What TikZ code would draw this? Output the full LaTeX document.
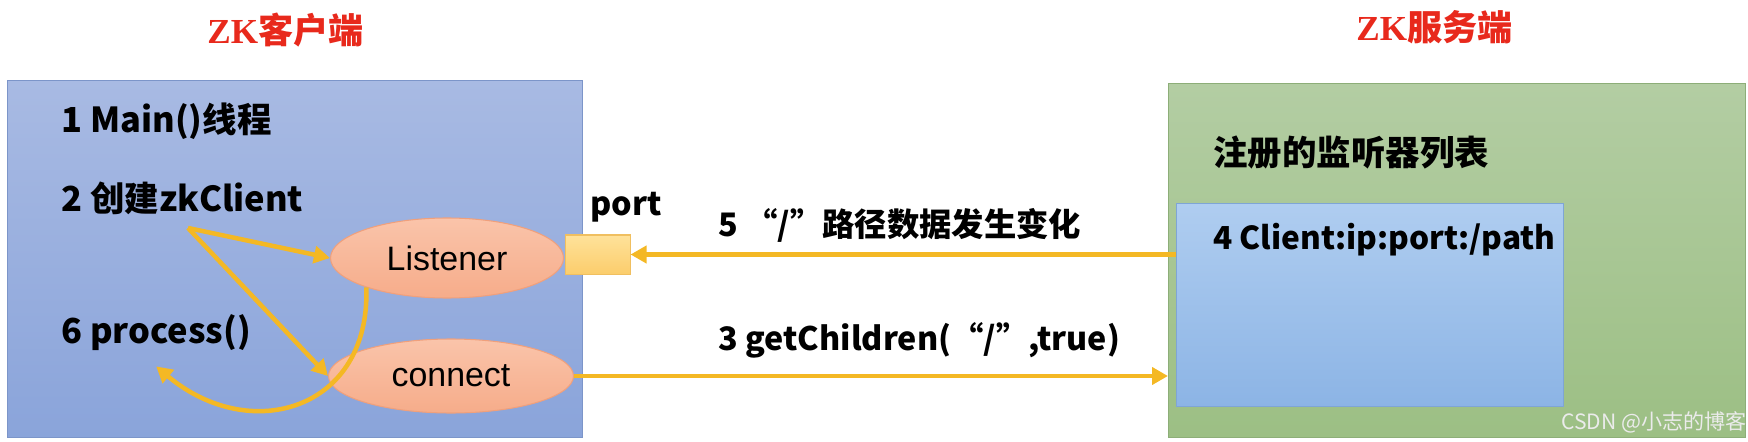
\documentclass[tikz,border=0pt]{standalone}
\usepackage{fontspec}
\setmainfont{Liberation Sans}
\newfontfamily\cjk{Noto Sans CJK SC}
\newfontfamily\serifzk{Liberation Serif}
\usepackage{xcolor}
\usepackage{tikz}
\usetikzlibrary{arrows.meta,shapes,positioning}

\definecolor{arrowc}{HTML}{F4B824}
\definecolor{titlered}{HTML}{E8291C}
\definecolor{cltop}{HTML}{A8BAE3}
\definecolor{clbot}{HTML}{8AA4DA}
\definecolor{clline}{HTML}{7C95C9}
\definecolor{svtop}{HTML}{B3CDA3}
\definecolor{svbot}{HTML}{9CBF84}
\definecolor{svline}{HTML}{8DAE78}
\definecolor{lsttop}{HTML}{AFCDF0}
\definecolor{lstbot}{HTML}{8CB4E5}
\definecolor{lstline}{HTML}{7FA5D5}
\definecolor{ovaltop}{HTML}{FAC4AA}
\definecolor{ovalbot}{HTML}{F6AC8A}
\definecolor{ovalline}{HTML}{F0A07C}
\definecolor{porttop}{HTML}{FFE29A}
\definecolor{portbot}{HTML}{FBCD6C}
\definecolor{portline}{HTML}{F0BF60}

\begin{document}
\begin{tikzpicture}[
  lbl/.style={inner sep=0pt, font=\cjk\bfseries\fontsize{18.4}{22}\selectfont},
  step lbl/.style={inner sep=0pt, font=\cjk\bfseries\fontsize{19.6}{23}\selectfont},
  ttl/.style={inner sep=0pt, text=titlered, font=\bfseries\fontsize{20}{24}\selectfont},
  oval/.style={ellipse, draw=ovalline, line width=0.6pt, top color=ovaltop, bottom color=ovalbot, inner sep=0pt, font=\fontsize{19.3}{23}\selectfont},
  arr/.style={-{Triangle[length=0.32cm,width=0.34cm]}, line width=0.09cm, draw=arrowc}
]

\useasboundingbox (0,0) rectangle (34.96,-8.84);
\coordinate(O1) at (0,0);

\node[below right=1.6cm and 0.14cm of O1, draw=clline, line width=0.02cm, top color=cltop, bottom color=clbot, minimum width=11.5cm, minimum height=7.14cm, inner sep=0pt](cbox) {};
\node[below right=1.66cm and 23.36cm of O1, draw=svline, line width=0.02cm, top color=svtop, bottom color=svbot, minimum width=11.54cm, minimum height=7.08cm, inner sep=0pt](sbox) {};
\node[below right=4.06cm and 23.52cm of O1, draw=lstline, line width=0.02cm, top color=lsttop, bottom color=lstbot, minimum width=7.74cm, minimum height=4.06cm, inner sep=0pt](lst) {};

\node[below right=0.6cm and 4.14cm of O1, anchor=west, ttl](ctitle) {{\serifzk ZK}{\cjk 客户端}};
\node[below right=0.54cm and 27.12cm of O1, anchor=west, ttl](stitle) {{\serifzk ZK}{\cjk 服务端}};

\node[below right=2.42cm and 1.22cm of O1, anchor=west, step lbl](m1) {1 Main()线程};
\node[below right=3.96cm and 1.22cm of O1, anchor=west, step lbl](m2) {2 创建zkClient};
\node[below right=6.66cm and 1.22cm of O1, anchor=west, step lbl](m6) {6 process()};

\node[below right=5.16cm and 8.94cm of O1, anchor=center, oval, minimum width=4.66cm, minimum height=1.6cm](lis) {Listener};
\node[below right=7.52cm and 9.02cm of O1, anchor=center, oval, minimum width=4.9cm, minimum height=1.48cm](conn) {connect};

\node[below right=5.09cm and 11.95cm of O1, anchor=center, draw=portline, line width=0.02cm, top color=porttop, bottom color=portbot, minimum width=1.3cm, minimum height=0.78cm, inner sep=0pt](port) {};
\node[below right=4.14cm and 12.52cm of O1, anchor=center, lbl](portlbl) {port};

\node[below right=3.06cm and 24.26cm of O1, anchor=west, lbl, font=\cjk\bfseries\fontsize{19.6}{23}\selectfont](reg) {注册的监听器列表};
\node[below right=4.8cm and 24.26cm of O1, anchor=west, lbl, font=\cjk\bfseries\fontsize{18}{22}\selectfont](path) {4 Client:ip:port:/path};

\node[below right=4.5cm and 14.36cm of O1, anchor=west, lbl](msg5) {5 “/”路径数据发生变化};
\node[below right=6.8cm and 14.36cm of O1, anchor=west, lbl](msg3) {3 getChildren(“/”,true)};

\node[below right=8.44cm and 31.22cm of O1, anchor=west, inner sep=0pt, text=white!92!black, font=\cjk\fontsize{12}{14}\selectfont](mark) {CSDN @小志的博客};

\coordinate[below right=4.56cm and 3.76cm of O1](fork);
\coordinate[below=0.3cm of m6](back);

\draw[arr] (fork) -- (lis.west);
\draw[arr] (fork) -- (conn.west);
\draw[arr] (lis.200) to[out=-88, in=-40, looseness=1.4] (back);
\draw[arr] (port.east -| lst.west) -- (port.east);
\draw[arr] (conn.east) -- (conn.east -| sbox.west);
\end{tikzpicture}
\end{document}
